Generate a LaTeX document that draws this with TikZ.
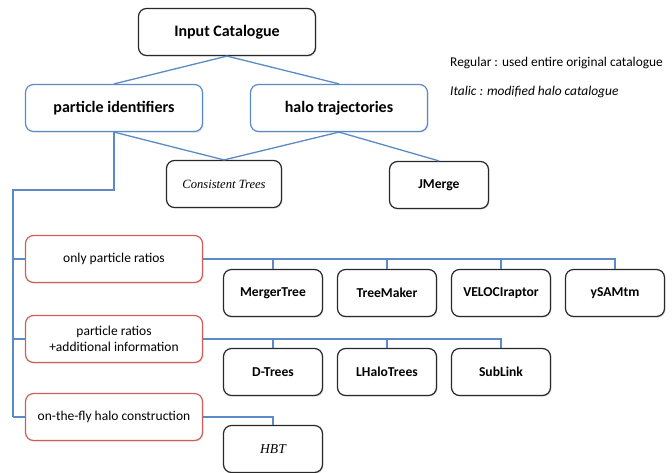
\documentclass[tikz,border=0pt]{standalone}
\usepackage{fontspec}
\setmainfont{Carlito}
\newfontfamily\serifit{Liberation Serif}
\usetikzlibrary{shadows}
\definecolor{linkblue}{RGB}{91,138,196}
\definecolor{boxred}{RGB}{204,96,92}
\definecolor{boxgray}{RGB}{40,40,40}
\begin{document}
\begin{tikzpicture}[x=1pt,y=-1pt,
    base/.style={draw, rounded corners=8pt, line width=1.2pt, fill=white, text=black, align=center,
        drop shadow={opacity=0.18, shadow xshift=1.2pt, shadow yshift=-1.2pt}},
    topbox/.style={base, draw=boxgray, minimum width=177pt, minimum height=47pt,
        font=\bfseries\fontsize{16}{18}\selectfont},
    kindbox/.style={base, draw=linkblue, minimum width=177pt, minimum height=47pt,
        font=\bfseries\fontsize{16}{18}\selectfont},
    ratiobox/.style={base, draw=boxred, minimum width=177pt, minimum height=47pt,
        font=\fontsize{13.5}{16}\selectfont},
    codebox/.style={base, draw=boxgray, minimum width=99pt, minimum height=47pt,
        font=\bfseries\fontsize{13.6}{15}\selectfont},
    link/.style={draw=linkblue, line width=1.3pt},
    legend/.style={anchor=west, inner sep=0pt, font=\fontsize{13.4}{15}\selectfont}]
    \useasboundingbox (0,0) rectangle (672,472);
    % top level
    \node[topbox] (input) at (227,32) {Input Catalogue};
    \node[kindbox] (pid) at (114,108) {particle identifiers};
    \node[kindbox] (traj) at (339,108) {halo trajectories};
    % codes fed by both kinds
    \node[codebox, minimum width=115pt] (ctrees) at (224,184) {\serifit\mdseries\itshape\fontsize{12.6}{15}\selectfont Consistent Trees};
    \node[codebox] (jmerge) at (439,185) {JMerge};
    % legend
    \node[legend] (regular) at (450,63) {Regular : used entire original catalogue};
    \node[legend] (italic) at (450,92) {\itshape Italic : modified halo catalogue};
    % particle based methods
    \node[ratiobox] (only) at (114,259) {only particle ratios};
    \node[ratiobox] (extra) at (114,339) {particle ratios\\+additional information};
    \node[ratiobox] (fly) at (114,417) {on-the-fly halo construction};
    % codes in rows
    \foreach \n/\x/\t in {merger/273/MergerTree,treemaker/387/TreeMaker,velo/501/VELOCIraptor,ysam/615/ySAMtm}{%
        \node[codebox] (\n) at (\x,293) {\t};
    }
    \foreach \n/\x/\t in {dtrees/273/D-Trees,lhalo/387/LHaloTrees,sublink/501/SubLink}{%
        \node[codebox] (\n) at (\x,372) {\t};
    }
    \node[codebox] (hbt) at (273,449) {\serifit\mdseries\itshape HBT};
    % connectors from the catalogue
    \draw[link] (input.south) -- (pid.north);
    \draw[link] (input.south) -- (traj.north);
    \draw[link] (pid.south) -- (ctrees.north);
    \draw[link] (traj.south) -- (ctrees.north);
    \draw[link] (traj.south) -- (jmerge.north);
    % spine down the left side
    \coordinate (spine) at (13,190);
    \draw[link] (pid.south) |- (spine) -- (spine |- fly.west);
    \foreach \n in {only,extra,fly}{%
        \draw[link] (spine |- \n.west) -- (\n.west);
    }
    % buses to the codes
    \draw[link] (only.east) -| (ysam.north);
    \foreach \n in {merger,treemaker,velo}{%
        \draw[link] (only.east -| \n.north) -- (\n.north);
    }
    \draw[link] (extra.east) -| (sublink.north);
    \foreach \n in {dtrees,lhalo}{%
        \draw[link] (extra.east -| \n.north) -- (\n.north);
    }
    \draw[link] (fly.east) -| (hbt.north);
\end{tikzpicture}
\end{document}
